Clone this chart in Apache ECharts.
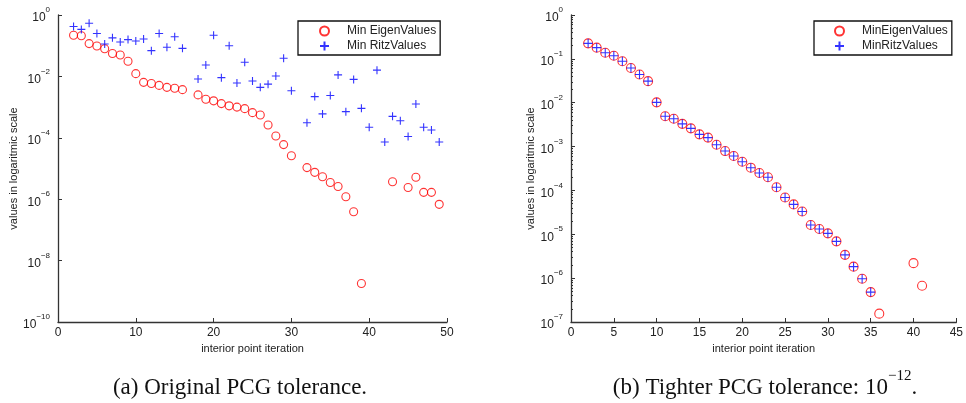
<!DOCTYPE html>
<html>
<head>
<meta charset="utf-8">
<script src="https://cdn.jsdelivr.net/npm/echarts@6/dist/echarts.min.js"></script>
<style>
  html, body { margin: 0; padding: 0; background: #fff; }
  #main { width: 966px; height: 403px; }
</style>
</head>
<body>
<div id="main"></div>
<script>
// (a) original PCG tolerance, iterations 2..49 (null = not plotted)
const iterA = [2,3,4,5,6,7,8,9,10,11,12,13,14,15,16,17,18,19,20,21,22,23,24,25,
  26,27,28,29,30,31,32,33,34,35,36,37,38,39,40,41,42,43,44,45,46,47,48,49];
const eigA = [0.22,0.21,0.117,0.098,0.08,0.056,0.05,0.031,0.0123,0.0064,0.0059,0.0051,
  0.0044,0.0041,0.0037,null,0.0025,0.0018,0.0016,0.0013,0.0011,0.001,0.00089,0.00066,
  0.00055,0.00026,0.000115,6.0e-5,2.6e-5,null,1.07e-5,7.5e-6,5.4e-6,3.5e-6,2.6e-6,1.2e-6,
  3.9e-7,1.8e-9,null,null,null,3.7e-6,null,2.4e-6,5.2e-6,1.67e-6,1.67e-6,6.8e-7];
const ritzA = [0.42,0.34,0.54,0.25,0.114,0.18,0.132,0.158,0.142,0.165,0.069,0.25,
  0.089,0.196,0.082,null,0.0082,0.0235,0.22,0.0091,0.1,0.0061,0.029,0.0071,
  0.0044,0.0056,0.0103,0.039,0.0034,null,0.00031,0.0022,0.0006,0.0024,0.0112,0.00071,
  0.008,0.00091,0.00022,0.016,7.3e-5,0.0005,0.00036,0.00011,0.00126,0.00022,0.00018,7.3e-5];

// (b) tighter PCG tolerance, iterations 2..41
const iterB = [2,3,4,5,6,7,8,9,10,11,12,13,14,15,16,17,18,19,20,21,22,23,24,25,
  26,27,28,29,30,31,32,33,34,35,36,37,38,39,40,41];
const eigB = [0.226,0.18,0.138,0.118,0.088,0.062,0.044,0.031,0.0102,0.0049,0.0043,0.0033,
  0.0026,0.0019,0.0016,0.0011,0.00079,0.00061,0.00045,0.00033,0.00025,0.0002,0.000118,6.9e-5,
  4.8e-5,3.3e-5,1.63e-5,1.32e-5,1.05e-5,6.9e-6,3.4e-6,1.83e-6,9.7e-7,4.8e-7,1.55e-7,
  null,null,null,2.2e-6,6.7e-7];
const ritzB = [0.226,0.18,0.138,0.118,0.088,0.062,0.044,0.031,0.0102,0.0049,0.0043,0.0033,
  0.0026,0.0019,0.0016,0.0011,0.00079,0.00061,0.00045,0.00033,0.00025,0.0002,0.000118,6.9e-5,
  4.8e-5,3.3e-5,1.63e-5,1.32e-5,1.05e-5,6.9e-6,3.4e-6,1.83e-6,9.7e-7,4.8e-7,null,
  null,null,null,null,null];

const FONT = 'Liberation Sans, Arial, sans-serif';
const SERIF = 'Liberation Serif, serif';
const PLUS = 'path://M0,5L10,5M5,0L5,10';

function pairs(xs, ys) {
  const out = [];
  xs.forEach((x, i) => { if (ys[i] != null) out.push([x, ys[i]]); });
  return out;
}

// 10^n labels with superscript exponent
function powLabel(v) {
  const e = Math.round(Math.log10(v));
  return '{b|10}{e|' + (e < 0 ? '\u2212' + (-e) : e) + '}';
}
const powRich = {
  b: { fontSize: 12, lineHeight: 18, verticalAlign: 'bottom', color: '#222', fontFamily: FONT },
  e: { fontSize: 8, lineHeight: 10, verticalAlign: 'top', color: '#222', fontFamily: FONT }
};

const axisLine = { show: true, lineStyle: { color: '#333', width: 1.3 } };

function xAx(idx, max, step) {
  return {
    type: 'value', gridIndex: idx, min: 0, max: max, interval: step,
    name: 'interior point iteration', nameLocation: 'middle', nameGap: 21,
    nameTextStyle: { fontSize: 11, color: '#222', fontFamily: FONT },
    axisLine: axisLine,
    axisTick: { inside: true, length: 4, lineStyle: { color: '#333' } },
    axisLabel: { fontSize: 12, color: '#222', fontFamily: FONT, margin: 5 },
    splitLine: { show: false }
  };
}
function yAx(idx, min, step, gap, minor) {
  return {
    type: 'log', logBase: 10, gridIndex: idx, min: min, max: 1, interval: step,
    name: 'values in logaritmic scale', nameLocation: 'middle', nameGap: gap,
    nameTextStyle: { fontSize: 11, color: '#222', fontFamily: FONT },
    axisLine: axisLine,
    axisTick: { inside: true, length: 4, lineStyle: { color: '#333' } },
    minorTick: { show: minor, splitNumber: 9, length: 2, lineStyle: { color: '#333' } },
    axisLabel: { formatter: powLabel, rich: powRich, margin: 8 },
    splitLine: { show: false }
  };
}

const circleStyle = { color: 'rgba(0,0,0,0)', borderColor: '#ff0000', borderWidth: 1.1 };
const plusStyle = { color: 'rgba(0,0,0,0)', borderColor: '#0000ff', borderWidth: 1.1 };

function legend(left, names, padL) {
  return {
    orient: 'vertical', left: left, top: 21,
    data: names,
    backgroundColor: '#fff', borderColor: '#111', borderWidth: 1.3, borderRadius: 0,
    padding: [4, 4, 3, padL], itemGap: 3, itemWidth: 9, itemHeight: 9,
    textStyle: { fontSize: 12, color: '#222', fontFamily: FONT, padding: [0, 0, 0, 13] },
    selectedMode: false
  };
}

const capRich = {
  s: { fontSize: 23, lineHeight: 30, verticalAlign: 'bottom', color: '#111', fontFamily: SERIF },
  e: { fontSize: 15, lineHeight: 17, verticalAlign: 'top', color: '#111', fontFamily: SERIF }
};

const chart = echarts.init(document.getElementById('main'));
chart.setOption({
  animation: false,
  backgroundColor: '#fff',
  title: [
    { text: '{s|(a) Original PCG tolerance.}', left: 235, top: 364, textAlign: 'center',
      textStyle: { fontSize: 23, fontWeight: 'normal', color: '#111', fontFamily: SERIF, rich: capRich } },
    { text: '{s|(b) Tighter PCG tolerance: 10}{e|\u221212}{s|.}', left: 760, top: 364, textAlign: 'center',
      textStyle: { fontSize: 23, fontWeight: 'normal', color: '#111', fontFamily: SERIF, rich: capRich } }
  ],
  legend: [
    legend(298, ['Min EigenValues', 'Min RitzValues'], 21),
    legend(814, ['MinEigenValues', 'MinRitzValues'], 20)
  ],
  grid: [
    { left: 58, top: 15, width: 389, height: 307 },
    { left: 571, top: 15, width: 388, height: 307 }
  ],
  xAxis: [xAx(0, 50, 10), xAx(1, 45, 5)],
  yAxis: [yAx(0, 1e-10, 2, 37, false), yAx(1, 1e-7, 1, 33, true)],
  series: [
    { name: 'Min EigenValues', type: 'scatter', xAxisIndex: 0, yAxisIndex: 0,
      symbol: 'circle', symbolSize: 8, itemStyle: circleStyle, data: pairs(iterA, eigA) },
    { name: 'Min RitzValues', type: 'scatter', xAxisIndex: 0, yAxisIndex: 0,
      symbol: PLUS, symbolSize: 8, itemStyle: plusStyle, data: pairs(iterA, ritzA) },
    { name: 'MinEigenValues', type: 'scatter', xAxisIndex: 1, yAxisIndex: 1,
      symbol: 'circle', symbolSize: 9, itemStyle: circleStyle, data: pairs(iterB, eigB) },
    { name: 'MinRitzValues', type: 'scatter', xAxisIndex: 1, yAxisIndex: 1,
      symbol: PLUS, symbolSize: 9, itemStyle: plusStyle, data: pairs(iterB, ritzB) }
  ]
});
</script>
</body>
</html>
